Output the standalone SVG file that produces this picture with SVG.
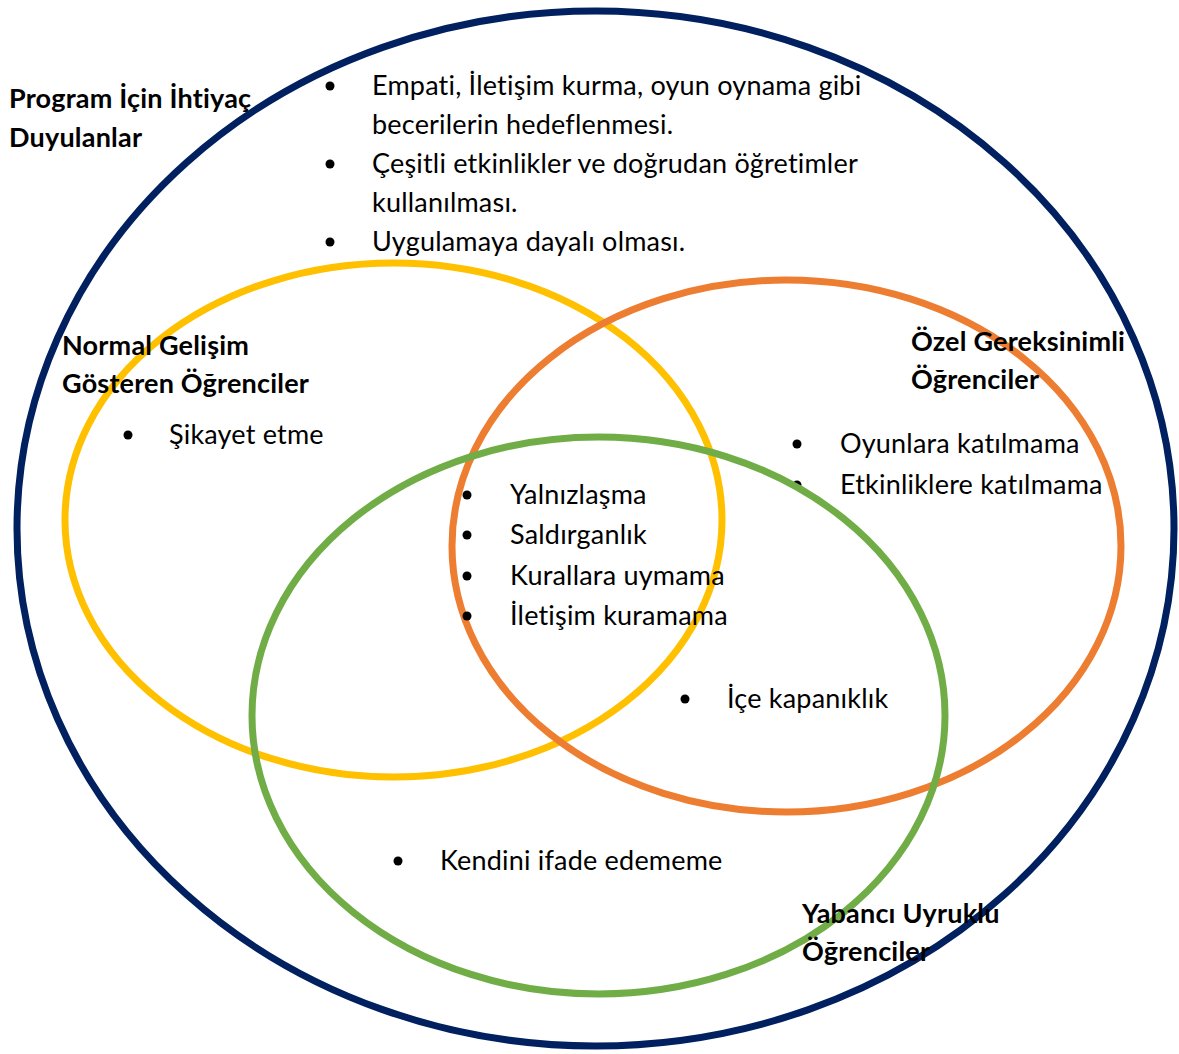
<svg xmlns="http://www.w3.org/2000/svg" width="1179" height="1054" viewBox="0 0 1179 1054">
  <style>
    .ring { fill: none; stroke-width: 7; }
    .t { font-family: Lato, "Open Sans", "Liberation Sans", sans-serif; font-size: 27px; fill: #000; font-variant-ligatures: none; letter-spacing: 0.2px; }
    .h { font-weight: 700; }
    .dot { fill: #000; }
  </style>
  <rect width="1179" height="1054" fill="#fff"/>

  <g id="program-needs">
    <ellipse class="ring" cx="595.5" cy="528.5" rx="578.5" ry="517.5" stroke="#002060"/>
    <text class="t h" x="9" y="108">Program İçin İhtiyaç</text>
    <text class="t h" x="9" y="147">Duyulanlar</text>
    <circle class="dot" cx="330" cy="86" r="4.5"/>
    <text class="t" x="372" y="95">Empati, İletişim kurma, oyun oynama gibi</text>
    <text class="t" x="372" y="134">becerilerin hedeflenmesi.</text>
    <circle class="dot" cx="330" cy="164" r="4.5"/>
    <text class="t" x="372" y="173">Çeşitli etkinlikler ve doğrudan öğretimler</text>
    <text class="t" x="372" y="212">kullanılması.</text>
    <circle class="dot" cx="330" cy="242" r="4.5"/>
    <text class="t" x="372" y="251">Uygulamaya dayalı olması.</text>
  </g>

  <g id="normal-development">
    <ellipse class="ring" cx="393.5" cy="520" rx="328.5" ry="257" stroke="#FFC000"/>
    <text class="t h" x="62" y="355">Normal Gelişim</text>
    <text class="t h" x="62" y="393">Gösteren Öğrenciler</text>
    <circle class="dot" cx="128" cy="435" r="4.5"/>
    <text class="t" x="169" y="444">Şikayet etme</text>
  </g>

  <g id="special-needs">
    <ellipse class="ring" cx="786.5" cy="546" rx="334.5" ry="266" stroke="#ED7D31"/>
    <text class="t h" x="911" y="351">Özel Gereksinimli</text>
    <text class="t h" x="911" y="389">Öğrenciler</text>
    <circle class="dot" cx="797" cy="444" r="4.5"/>
    <text class="t" x="840" y="453">Oyunlara katılmama</text>
    <circle class="dot" cx="797" cy="485" r="4.5"/>
    <text class="t" x="840" y="494">Etkinliklere katılmama</text>
  </g>

  <g id="foreign-students">
    <ellipse class="ring" cx="598.5" cy="715.5" rx="346.5" ry="278.5" stroke="#70AD47"/>
    <text class="t h" x="802" y="923">Yabancı Uyruklu</text>
    <text class="t h" x="802" y="961">Öğrenciler</text>
    <circle class="dot" cx="398" cy="861" r="4.5"/>
    <text class="t" x="440" y="870">Kendini ifade edememe</text>
  </g>

  <g id="shared-items">
    <circle class="dot" cx="467" cy="495" r="4.5"/>
    <text class="t" x="510" y="504">Yalnızlaşma</text>
    <circle class="dot" cx="467" cy="535" r="4.5"/>
    <text class="t" x="510" y="544">Saldırganlık</text>
    <circle class="dot" cx="467" cy="576" r="4.5"/>
    <text class="t" x="510" y="585">Kurallara uymama</text>
    <circle class="dot" cx="467" cy="616" r="4.5"/>
    <text class="t" x="510" y="625">İletişim kuramama</text>
    <circle class="dot" cx="685" cy="699" r="4.5"/>
    <text class="t" x="727" y="708">İçe kapanıklık</text>
  </g>

  <g id="connectors"/>
</svg>
